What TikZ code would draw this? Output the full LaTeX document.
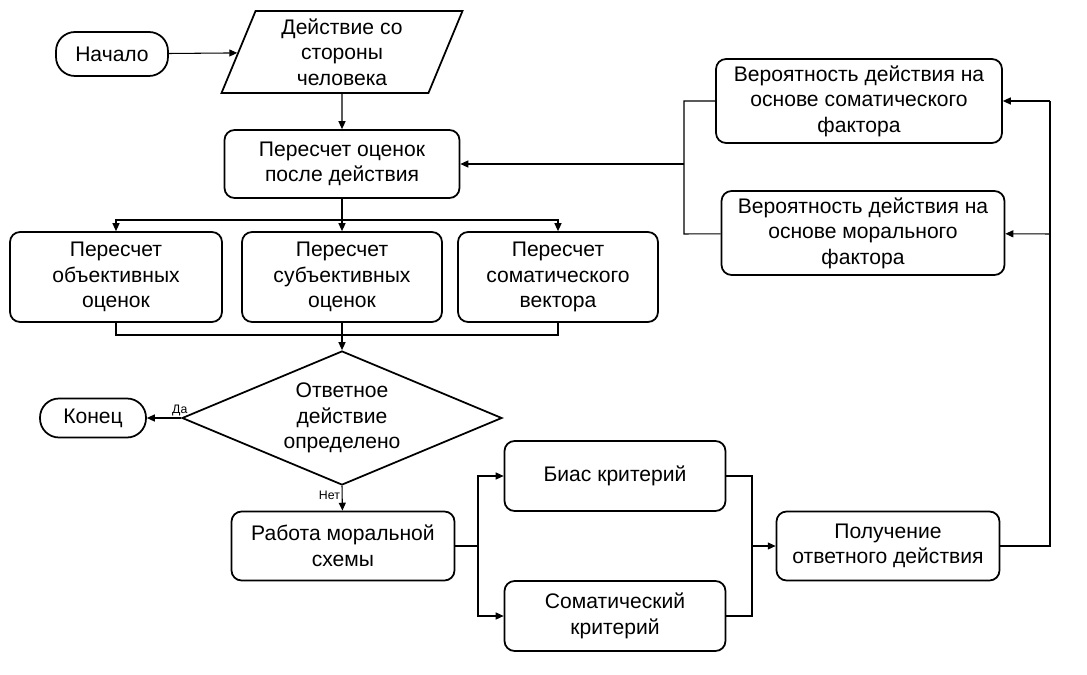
\documentclass[tikz,border=0pt]{standalone}
\usepackage{fontspec}
\setmainfont{Liberation Sans}
\usetikzlibrary{arrows.meta,shapes.geometric}

\tikzset{
  box/.style={draw,line width=1pt,rounded corners=0.2cm,align=center,inner sep=2pt},
  pill/.style={draw,line width=1pt,rounded corners=0.38cm,align=center},
  link/.style={line width=0.6pt},
  arr/.style={link,-{Triangle[length=4.5pt,width=4pt]}},
  tag/.style={font=\fontsize{7}{8}\selectfont,inner sep=1pt}
}

\begin{document}
\begin{tikzpicture}[x=0.02cm,y=-0.02cm,font=\fontsize{12}{14.5}\selectfont]
  \useasboundingbox (0,0) rectangle (1087,675);
  % start and input
  \node[pill,minimum width=2.24cm,minimum height=0.88cm] (start) at (112,54) {Начало};
  \node[draw,line width=1pt,trapezium,trapezium left angle=63,trapezium right angle=117,
        trapezium stretches body,minimum width=4.82cm,minimum height=1.64cm,align=center,inner sep=0pt]
        (act) at (342,52) {Действие со\\стороны\\человека};
  \node[box,minimum width=4.7cm,minimum height=1.36cm] (recalc) at (342,164) {Пересчет оценок\\после действия};
  % three recalculations
  \node[box,minimum width=4.24cm,minimum height=1.8cm] (obj) at (116,277) {Пересчет\\объективных\\оценок};
  \node[box,minimum width=4.0cm,minimum height=1.8cm] (subj) at (342,277) {Пересчет\\субъективных\\оценок};
  \node[box,minimum width=4.0cm,minimum height=1.8cm] (somv) at (558,277) {Пересчет\\соматического\\вектора};
  % decision
  \node[draw,line width=1pt,diamond,aspect=2.4,minimum width=6.4cm,minimum height=2.68cm,align=center,inner sep=0pt]
        (decide) at (342,418) {Ответное\\действие\\определено};
  \node[pill,minimum width=2.12cm,minimum height=0.78cm] (finish) at (93,418) {Конец};
  % moral scheme
  \node[box,minimum width=4.46cm,minimum height=1.38cm] (work) at (343,546) {Работа моральной\\схемы};
  \node[box,minimum width=4.42cm,minimum height=1.4cm] (bias) at (615,476) {Биас критерий};
  \node[box,minimum width=4.42cm,minimum height=1.4cm] (somcrit) at (615,616) {Соматический\\критерий};
  \node[box,minimum width=4.46cm,minimum height=1.38cm] (result) at (888,546) {Получение\\ответного действия};
  % probabilities
  \node[box,minimum width=5.72cm,minimum height=1.68cm] (psom) at (859,101) {Вероятность действия на\\основе соматического\\фактора};
  \node[box,minimum width=5.66cm,minimum height=1.68cm] (pmor) at (863,233) {Вероятность действия на\\основе морального\\фактора};

  \coordinate (split) at (342,220);
  \coordinate (merge) at (342,335);
  \coordinate (fork) at (478,546);
  \coordinate (join) at (752,546);
  \coordinate (rtop) at (1050,101);
  \coordinate (rmid) at (1050,234);
  \coordinate (ltop) at (684,101);
  \coordinate (lmid) at (684,164);
  \coordinate (lbot) at (684,234);

  % connectors
  \draw[arr] (start) -- (act);
  \draw[arr] (act) -- (recalc);
  \draw[link] (recalc) -- (split);
  \draw[arr] (split) -| (obj);
  \draw[arr] (split) -- (subj);
  \draw[arr] (split) -| (somv);
  \draw[link] (obj.south) |- (merge) -| (somv.south);
  \draw[arr] (subj) -- (decide);
  \draw[arr] (decide.west) -- (finish) node[tag,pos=0.04,above] {Да};
  \draw[arr] (decide.south) -- (work) node[tag,pos=0.4,left] {Нет};
  \draw[link] (work) -- (fork);
  \draw[arr] (fork) |- (bias);
  \draw[arr] (fork) |- (somcrit);
  \draw[link] (bias) -| (join);
  \draw[link] (somcrit) -| (join);
  \draw[arr] (join) -- (result);
  \draw[link] (result) -| (rtop);
  \draw[arr] (rtop) -- (psom);
  \draw[arr] (rmid) -- (pmor);
  \draw[link] (psom) -- (ltop) -- (lbot) -- (pmor);
  \draw[arr] (lmid) -- (recalc);
\end{tikzpicture}
\end{document}
